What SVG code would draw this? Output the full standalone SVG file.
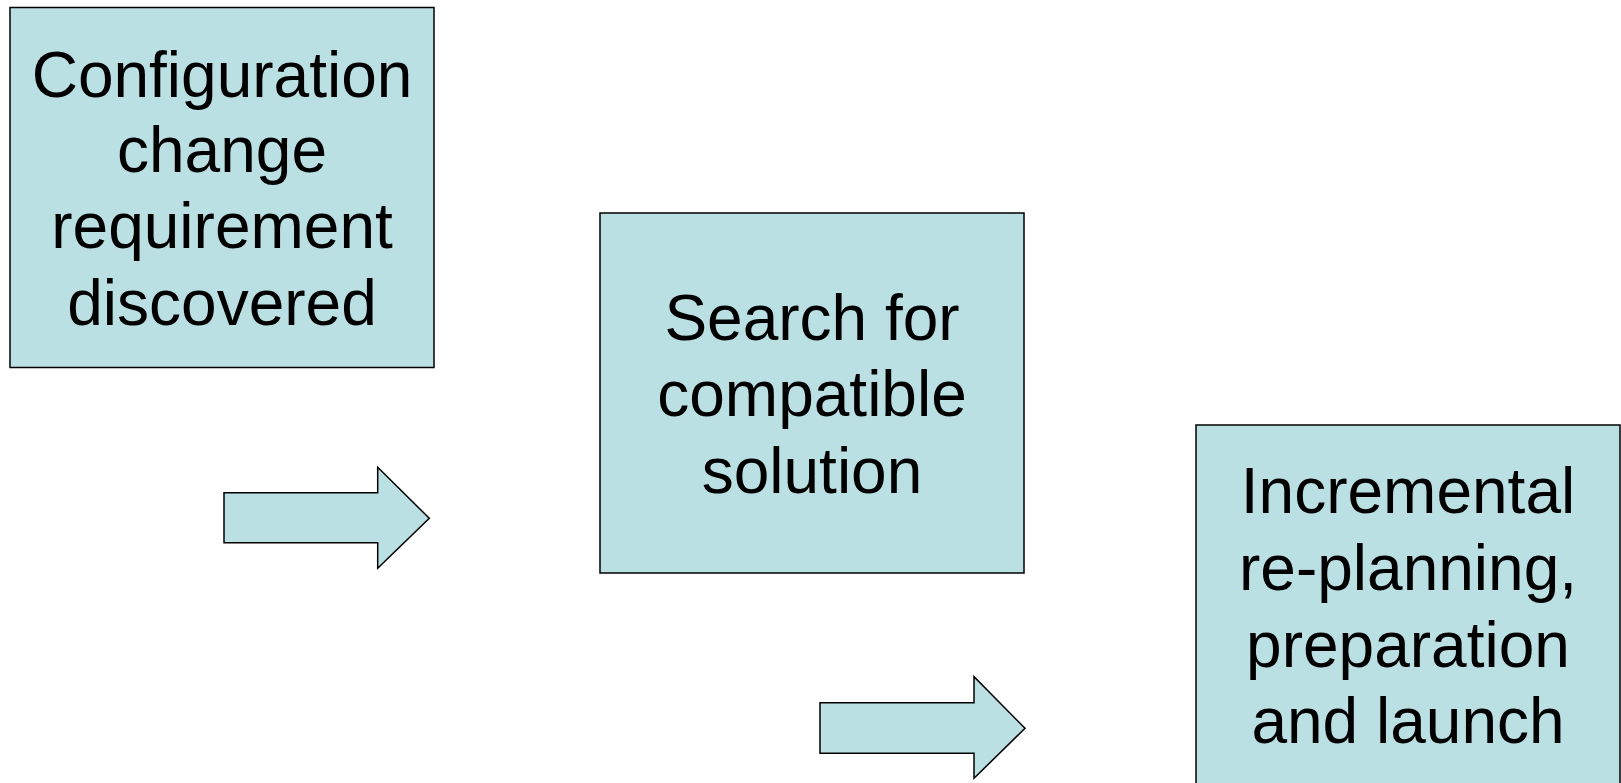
<svg xmlns="http://www.w3.org/2000/svg" width="1621" height="783" viewBox="0 0 1621 783">
<style>
.box{fill:#BBE0E3;stroke:#000;stroke-width:1.5}
.arr{fill:#BBE0E3;stroke:#000;stroke-width:1.5;stroke-linejoin:miter}
.t{font-family:"Liberation Sans",Arial,sans-serif;font-size:64px;fill:#000;text-anchor:middle}
</style>
<rect width="1621" height="783" fill="#fff"/>
<g id="node1">
<rect class="box" x="10" y="7.5" width="424" height="360"/>
<text class="t" x="222" y="97">Configuration</text>
<text class="t" x="222" y="172">change</text>
<text class="t" x="222" y="248">requirement</text>
<text class="t" x="222" y="325">discovered</text>
</g>
<g id="node2">
<rect class="box" x="600" y="213" width="424" height="360"/>
<text class="t" x="812" y="340">Search for</text>
<text class="t" x="812" y="416">compatible</text>
<text class="t" x="812" y="493">solution</text>
</g>
<g id="node3">
<rect class="box" x="1196" y="425" width="424" height="370"/>
<text class="t" x="1408" y="513">Incremental</text>
<text class="t" x="1408" y="590">re-planning,</text>
<text class="t" x="1408" y="667">preparation</text>
<text class="t" x="1408" y="743">and launch</text>
</g>
<g id="connectors">
<polygon class="arr" points="224,492.7 377.7,492.7 377.7,467.3 429.3,518.3 377.7,568.3 377.7,542.7 224,542.7"/>
<polygon class="arr" points="820,702.7 974,702.7 974,676.7 1025,728.3 974,778.3 974,753.3 820,753.3"/>
</g>
</svg>
